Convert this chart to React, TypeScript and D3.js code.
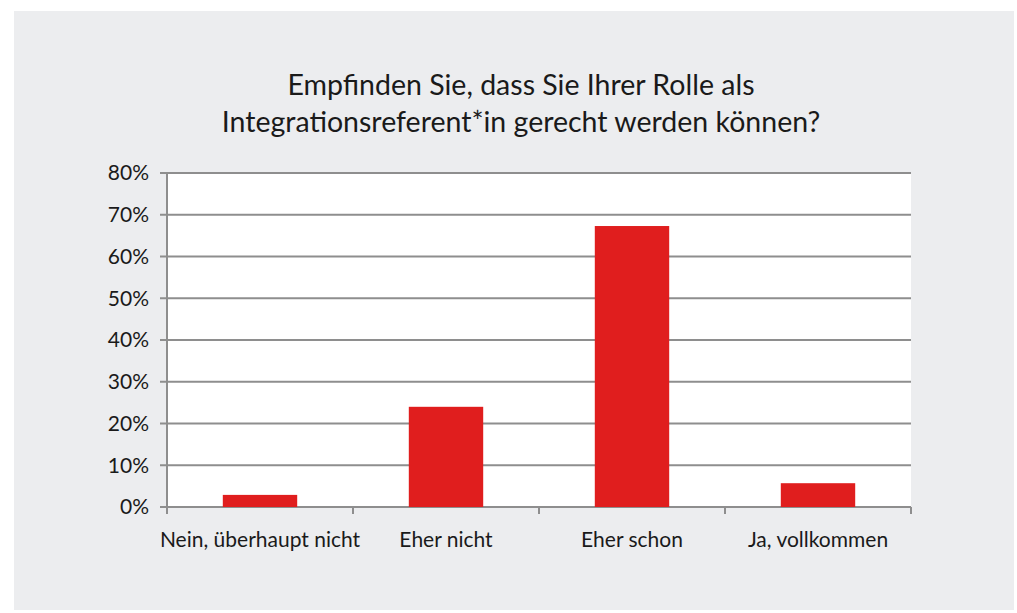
import { useEffect, useRef } from "react";
import * as d3 from "d3";

const categories = ["Nein, überhaupt nicht", "Eher nicht", "Eher schon", "Ja, vollkommen"];
const values = [2.9, 24.0, 67.3, 5.7];
const yTicks = [0, 10, 20, 30, 40, 50, 60, 70, 80];
const titleLines = [
  "Empfinden Sie, dass Sie Ihrer Rolle als",
  "Integrationsreferent*in gerecht werden können?",
];

export default function App() {
  const svgRef = useRef<SVGSVGElement>(null);
  const width = 1017;
  const height = 613;

  useEffect(() => {
    const svg = d3.select(svgRef.current);
    svg.selectAll("*").remove();

    const margin = { top: 173, right: 106, bottom: 106, left: 167 };
    const innerW = width - margin.left - margin.right;
    const innerH = height - margin.top - margin.bottom;
    const font = "Lato, 'Open Sans', sans-serif";
    const gray = "#8e8e8e";

    // panel background
    svg.append("rect").attr("width", width).attr("height", height).attr("fill", "#ffffff");
    svg.append("rect")
      .attr("x", 14).attr("y", 11)
      .attr("width", 1000).attr("height", 599)
      .attr("fill", "#ecedef");

    // title
    svg.append("g")
      .selectAll("text")
      .data(titleLines)
      .enter()
      .append("text")
      .attr("x", 521)
      .attr("y", (d, i) => 95 + i * 37)
      .attr("text-anchor", "middle")
      .attr("font-family", font)
      .attr("font-size", 28.5)
      .attr("fill", "#1a1a1a")
      .text((d) => d);

    const chart = svg.append("g").attr("transform", `translate(${margin.left},${margin.top})`);

    const x = d3.scaleBand().domain(categories).range([0, innerW]);
    const y = d3.scaleLinear().domain([0, 80]).range([innerH, 0]);

    // plot area
    chart.append("rect").attr("width", innerW).attr("height", innerH).attr("fill", "#ffffff");

    // grid lines
    chart.selectAll(".grid")
      .data(yTicks)
      .enter()
      .append("line")
      .attr("x1", -7)
      .attr("x2", innerW)
      .attr("y1", (d) => y(d))
      .attr("y2", (d) => y(d))
      .attr("stroke", gray)
      .attr("stroke-width", 2);

    // y labels
    chart.selectAll(".ylab")
      .data(yTicks)
      .enter()
      .append("text")
      .attr("x", -18)
      .attr("y", (d) => y(d))
      .attr("dy", "0.35em")
      .attr("text-anchor", "end")
      .attr("font-family", font)
      .attr("font-size", 21)
      .attr("fill", "#1a1a1a")
      .text((d) => `${d}%`);

    // bars
    const barW = x.bandwidth() * 0.4;
    chart.selectAll(".bar")
      .data(values)
      .enter()
      .append("rect")
      .attr("x", (d, i) => (x(categories[i]) as number) + (x.bandwidth() - barW) / 2)
      .attr("y", (d) => y(d))
      .attr("width", barW)
      .attr("height", (d) => innerH - y(d))
      .attr("fill", "#e01e1e");

    // axes lines
    chart.append("line")
      .attr("x1", 0).attr("x2", 0)
      .attr("y1", 0).attr("y2", innerH + 7)
      .attr("stroke", gray).attr("stroke-width", 2);

    const bounds = [0, ...categories.map((c) => (x(c) as number) + x.bandwidth())];
    chart.selectAll(".xtick")
      .data(bounds)
      .enter()
      .append("line")
      .attr("x1", (d) => d).attr("x2", (d) => d)
      .attr("y1", innerH).attr("y2", innerH + 7)
      .attr("stroke", gray).attr("stroke-width", 2);

    // x labels
    chart.selectAll(".xlab")
      .data(categories)
      .enter()
      .append("text")
      .attr("x", (d) => (x(d) as number) + x.bandwidth() / 2)
      .attr("y", innerH + 40)
      .attr("text-anchor", "middle")
      .attr("font-family", font)
      .attr("font-size", 21)
      .attr("fill", "#1a1a1a")
      .text((d) => d);
  }, []);

  return (
    <svg
      ref={svgRef}
      width={width}
      height={height}
      style={{ position: "absolute", left: 0, top: 0 }}
    />
  );
}
